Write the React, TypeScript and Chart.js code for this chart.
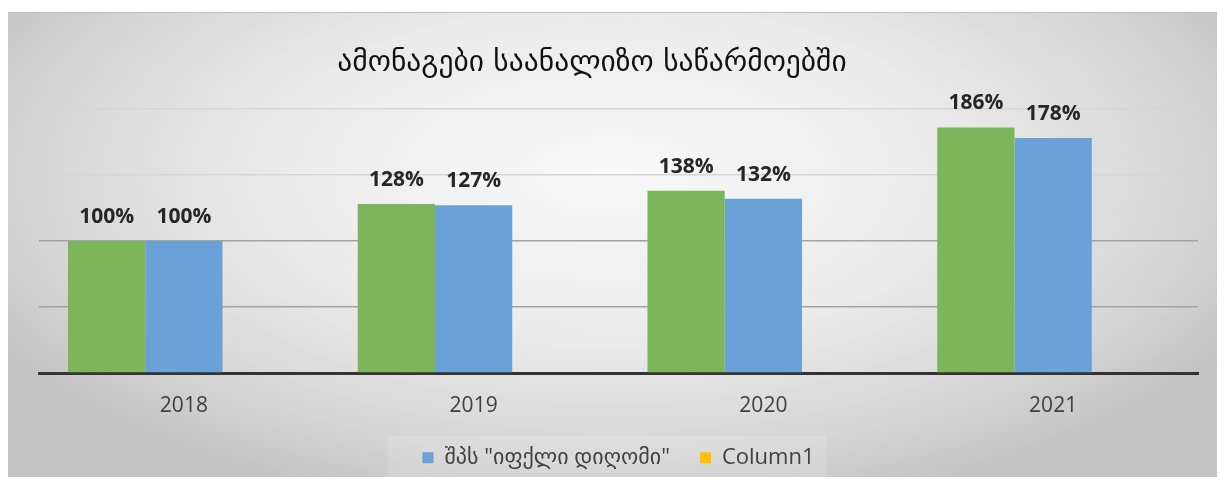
import React, { useEffect, useRef } from "react";
import { Chart, registerables } from "chart.js";

Chart.register(...registerables);

const chartTitle = "ამონაგები საანალიზო საწარმოებში";
const categories = ["2018", "2019", "2020", "2021"];
const seriesNames = ["საანალიზო საწარმოები", 'შპს "იფქლი დიღომი"', "Column1"];
const greenValues = [100, 128, 138, 186];
const blueValues = [100, 127, 132, 178];
const column1Values: (number | null)[] = [null, null, null, null];
const yTicks = [0, 50, 100, 150, 200];

const GREEN = "#7db65a";
const BLUE = "#6aa2d8";
const YELLOW = "#ffc000";

const titlePlugin = {
  id: "offsetTitle",
  afterDraw(chart: any) {
    const ctx = chart.ctx;
    ctx.save();
    ctx.font = "29.5px 'DejaVu Sans'";
    ctx.fillStyle = "#111111";
    ctx.textAlign = "center";
    ctx.textBaseline = "middle";
    ctx.fillText(chartTitle, 584, 50);
    ctx.restore();
  },
};

const dataLabelPlugin = {
  id: "dataLabels",
  afterDatasetsDraw(chart: any) {
    const ctx = chart.ctx;
    ctx.save();
    ctx.font = "bold 21px 'Open Sans'";
    ctx.fillStyle = "#262626";
    ctx.textAlign = "center";
    ctx.textBaseline = "middle";
    [0, 1].forEach((di) => {
      const meta = chart.getDatasetMeta(di);
      const ds = chart.data.datasets[di];
      meta.data.forEach((bar: any, i: number) => {
        const v = ds.data[i];
        if (v == null) return;
        ctx.fillText(`${v}%`, bar.x, bar.y - 24);
      });
    });
    ctx.restore();
  },
};

const legendShiftPlugin = {
  id: "legendShift",
  afterLayout(chart: any) {
    const lg = chart.legend;
    if (!lg) return;
    lg.top = 447 - 13.2 - 30;
  },
  beforeDraw(chart: any) {
    const lg = chart.legend;
    if (!lg || !lg.legendHitBoxes || !lg.legendHitBoxes.length) return;
    const boxes = lg.legendHitBoxes;
    const left = Math.min(...boxes.map((b: any) => b.left)) - 35;
    const right = Math.max(...boxes.map((b: any) => b.left + b.width)) + 12;
    const ctx = chart.ctx;
    ctx.save();
    ctx.fillStyle = "rgba(255,255,255,0.14)";
    ctx.fillRect(left, 423, right - left, 45);
    ctx.restore();
  },
};

export default function App() {
  const ref = useRef<HTMLCanvasElement | null>(null);
  useEffect(() => {
    if (!ref.current) return;
    const chart = new Chart(ref.current, {
      type: "bar",
      data: {
        labels: categories,
        datasets: [
          { label: seriesNames[0], data: greenValues, backgroundColor: GREEN },
          { label: seriesNames[1], data: blueValues, backgroundColor: BLUE },
          { label: seriesNames[2], data: column1Values as any, backgroundColor: YELLOW },
        ],
      },
      options: {
        animation: false,
        responsive: true,
        maintainAspectRatio: false,
        layout: { padding: { left: 31, right: 19, top: 96, bottom: 0 } },
        datasets: { bar: { categoryPercentage: 0.8, barPercentage: 1.0 } },
        plugins: {
          tooltip: { enabled: false },
          title: { display: false },
          legend: {
            position: "bottom",
            maxHeight: 41,
            labels: {
              filter: (item: any) => item.datasetIndex !== 0,
              boxWidth: 11,
              boxHeight: 11,
              padding: 30,
              color: "#404040",
              font: { family: "'Open Sans', 'DejaVu Sans'", size: 22 },
            },
          },
        },
        scales: {
          x: {
            grid: { display: false, drawTicks: false },
            border: { display: true, color: "#333333", width: 3 },
            ticks: {
              color: "#404040",
              font: { family: "'Open Sans'", size: 21 },
              padding: 20,
            },
            afterFit: (scale: any) => {
              scale.height = 63;
            },
          },
          y: {
            min: yTicks[0],
            max: yTicks[yTicks.length - 1],
            afterBuildTicks: (scale: any) => {
              scale.ticks = yTicks.map((v) => ({ value: v }));
            },
            ticks: { display: false },
            border: { display: false },
            grid: {
              drawTicks: false,
              lineWidth: 1.5,
              color: (c: any) =>
                c.tick && c.tick.value === 0
                  ? "rgba(0,0,0,0)"
                  : c.tick && c.tick.value >= 150
                  ? "#d6d6d6"
                  : "#a3a3a3",
            },
            afterFit: (scale: any) => {
              scale.width = 0;
            },
          },
        },
      },
      plugins: [legendShiftPlugin, dataLabelPlugin, titlePlugin],
    });
    return () => chart.destroy();
  }, []);

  return (
    <div style={{ paddingTop: 4 }}>
      <div
        style={{
          position: "relative",
          height: 465,
          borderTop: "1px solid #bdbdbd",
          boxSizing: "border-box",
          background:
            "radial-gradient(ellipse 60% 75% at 50% 35%, #f8f8f8 0%, #ececec 45%, #d6d6d6 80%, #c2c2c2 100%)",
        }}
      >
        <canvas ref={ref} />
      </div>
    </div>
  );
}
